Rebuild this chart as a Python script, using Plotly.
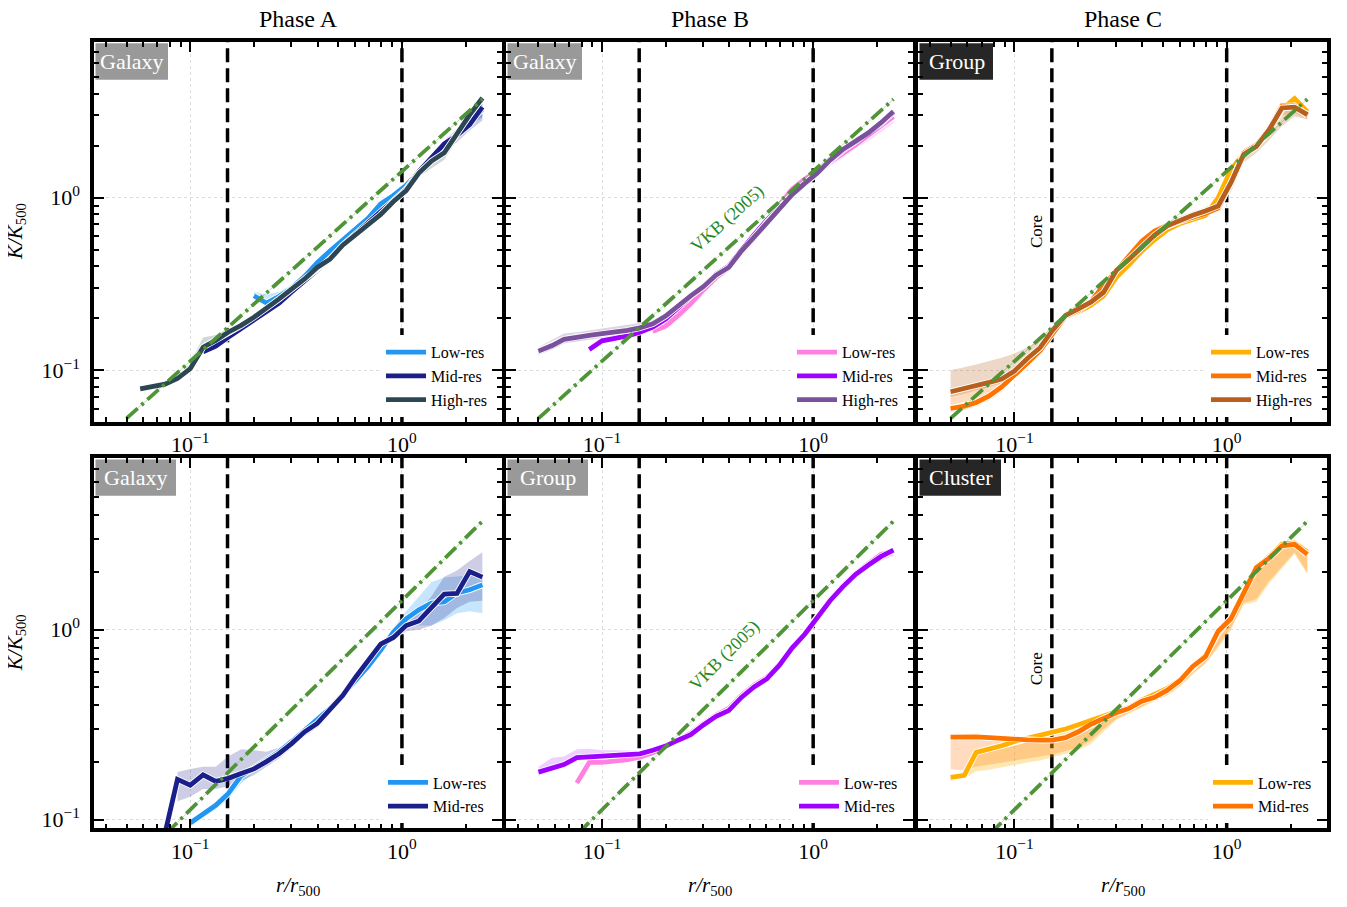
import math
import plotly.graph_objects as go

N = None

# ---------------- data ----------------
R = [0.050, 0.058, 0.066, 0.076, 0.087, 0.100, 0.115, 0.132, 0.151, 0.174,
     0.200, 0.229, 0.263, 0.302, 0.347, 0.398, 0.457, 0.525, 0.603, 0.692,
     0.794, 0.912, 1.047, 1.202, 1.380, 1.585, 1.820, 2.089, 2.399]

# Phase A, Galaxy (top row)
PA1_LOW = [N] * 10 + [0.27, 0.245, 0.268, 0.30, 0.35, 0.42, 0.49, 0.57, 0.66, 0.76,
                      0.92, 1.03, 1.18, 1.42, 1.68, 1.90, 2.30, 2.80, 3.25]
PA1_LOW_LO = [N] * 10 + [0.255, 0.235, 0.255, 0.29, 0.335, 0.40, 0.47, 0.55, 0.64, 0.74,
                         0.88, 0.99, 1.13, 1.36, 1.60, 1.80, 2.2, 2.65, 2.9]
PA1_LOW_HI = [N] * 10 + [0.285, 0.275, 0.285, 0.315, 0.365, 0.44, 0.51, 0.59, 0.68, 0.78,
                         0.96, 1.07, 1.23, 1.48, 1.76, 2.0, 2.4, 2.95, 3.4]
PA1_MID = [N] * 6 + [0.128, 0.138, 0.155, 0.175, 0.196, 0.218, 0.245, 0.285, 0.33, 0.385,
                     0.44, 0.53, 0.62, 0.72, 0.83, 0.96, 1.12, 1.42, 1.72, 2.05, 2.30, 2.65, 3.35]
PA1_MID_LO = [N] * 22 + [1.08, 1.35, 1.60, 1.85, 2.10, 2.45, 2.80]
PA1_MID_HI = [N] * 22 + [1.16, 1.48, 1.80, 2.15, 2.50, 2.90, 3.50]
PA1_HIGH = [N, 0.078, 0.080, 0.083, 0.0895, 0.102, 0.136, 0.149, 0.166, 0.182, 0.203, 0.227,
            0.259, 0.296, 0.338, 0.394, 0.44, 0.53, 0.61, 0.70, 0.80, 0.95, 1.10, 1.39, 1.63,
            1.82, 2.37, 3.02, 3.78]
PA1_HIGH_LO = [N, 0.076, 0.078, 0.080, 0.086, 0.097, 0.125, 0.143, 0.160, 0.177, 0.197, 0.221,
               0.252, 0.289, 0.330, 0.385, 0.43, 0.52, 0.60, 0.69, 0.78, 0.92, 1.07, 1.32, 1.48,
               1.66, 2.15, 2.65, 2.95]
PA1_HIGH_HI = [N, 0.080, 0.082, 0.086, 0.093, 0.110, 0.155, 0.160, 0.172, 0.188, 0.210, 0.233,
               0.265, 0.303, 0.346, 0.402, 0.45, 0.54, 0.62, 0.71, 0.82, 0.98, 1.13, 1.42, 1.68,
               1.92, 2.45, 3.10, 3.85]

# Phase B, Galaxy (top row)
PB1_LOW = [N] * 9 + [0.168, 0.180, 0.207, 0.243, 0.292, 0.345, 0.390, 0.475, 0.58, 0.73,
                     0.91, 1.12, 1.28, 1.43, 1.62, 1.82, 2.02, 2.30, 2.60, 2.95]
PB1_LOW_LO = [N] * 9 + [0.162, 0.173, 0.200, 0.234, 0.282, 0.335, 0.378, 0.460, 0.565, 0.71,
                        0.88, 1.08, 1.24, 1.38, 1.55, 1.74, 1.92, 2.12, 2.40, 2.70]
PB1_LOW_HI = [N] * 9 + [0.174, 0.187, 0.214, 0.252, 0.302, 0.355, 0.402, 0.490, 0.595, 0.75,
                        0.94, 1.16, 1.32, 1.48, 1.68, 1.90, 2.12, 2.42, 2.72, 3.05]
PB1_MID = [N] * 4 + [0.132, 0.148, 0.153, 0.158, 0.166, 0.178, 0.198, 0.232, 0.268, 0.307,
                     0.36, 0.40, 0.50, 0.61, 0.74, 0.88, 1.04, 1.20, 1.38, 1.63, 1.88, 2.10,
                     2.35, 2.68, 3.12]
PB1_HIGH = [0.129, 0.139, 0.151, 0.156, 0.159, 0.163, 0.166, 0.170, 0.176, 0.186, 0.206, 0.237,
            0.270, 0.305, 0.356, 0.394, 0.49, 0.59, 0.718, 0.87, 1.04, 1.21, 1.39, 1.65, 1.90,
            2.12, 2.37, 2.71, 3.16]
PB1_HIGH_LO = [0.123, 0.132, 0.143, 0.147, 0.150, 0.154, 0.158, 0.163, 0.170, 0.181, 0.200, 0.230,
               0.262, 0.296, 0.345, 0.383, 0.475, 0.575, 0.70, 0.85, 1.01, 1.17, 1.34, 1.52, 1.70,
               1.92, 2.22, 2.55, 2.95]
PB1_HIGH_HI = [0.136, 0.150, 0.163, 0.166, 0.170, 0.174, 0.178, 0.182, 0.188, 0.195, 0.213, 0.244,
               0.278, 0.314, 0.367, 0.405, 0.505, 0.605, 0.735, 0.89, 1.07, 1.25, 1.43, 1.70, 1.96,
               2.18, 2.44, 2.80, 3.25]

# Phase C, Group (top row)
PC1_LOW = [N] * 7 + [0.133, 0.166, 0.205, 0.218, 0.238, 0.270, 0.345, 0.41, 0.49, 0.57,
                     0.65, 0.71, 0.75, 0.79, 1.00, 1.45, 1.80, 2.00, 2.40, 3.25, 3.75, 3.15]
PC1_MID = [0.060, 0.062, 0.065, 0.071, 0.080, 0.093, 0.110, 0.130, 0.162, 0.205, 0.222, 0.250,
           0.310, 0.375, 0.46, 0.56, 0.64, 0.69, 0.73, 0.77, 0.81, 0.87, 1.22, 1.82, 2.02, 2.50,
           3.40, 3.40, 3.00]
PC1_MID_LO = [0.057, 0.059, 0.062, 0.067, 0.075, 0.088, 0.104, 0.123, 0.154, 0.195, 0.212, 0.238,
              0.29, 0.355, 0.43, 0.52, 0.60, 0.66, 0.70, 0.74, 0.78, 0.84, 1.12, 1.70, 1.90, 2.30,
              3.0, 3.1, 2.85]
PC1_MID_HI = [0.075, 0.077, 0.080, 0.083, 0.088, 0.099, 0.116, 0.137, 0.170, 0.215, 0.232, 0.262,
              0.33, 0.395, 0.49, 0.59, 0.67, 0.72, 0.76, 0.80, 0.85, 0.92, 1.32, 1.92, 2.12, 2.65,
              3.55, 3.60, 3.15]
PC1_HIGH = [0.075, 0.078, 0.081, 0.085, 0.089, 0.099, 0.117, 0.135, 0.170, 0.208, 0.227, 0.248,
            0.283, 0.378, 0.44, 0.515, 0.606, 0.687, 0.743, 0.79, 0.838, 0.895, 1.22, 1.78, 1.98,
            2.48, 3.31, 3.35, 3.03]
PC1_HIGH_LO = [0.070, 0.073, 0.076, 0.080, 0.084, 0.093, 0.110, 0.127, 0.160, 0.196, 0.214, 0.232,
               0.262, 0.335, 0.395, 0.465, 0.555, 0.635, 0.70, 0.75, 0.80, 0.86, 1.08, 1.60, 1.82,
               2.15, 2.60, 2.95, 2.85]
PC1_HIGH_HI = [0.100, 0.104, 0.108, 0.113, 0.118, 0.125, 0.136, 0.150, 0.180, 0.220, 0.240, 0.262,
               0.310, 0.400, 0.475, 0.56, 0.65, 0.72, 0.78, 0.83, 0.88, 0.98, 1.35, 1.90, 2.12,
               2.70, 3.50, 3.60, 3.20]

# Phase A, Galaxy (bottom row)
PA2_LOW = [N] * 5 + [0.096, 0.107, 0.119, 0.137, 0.170, 0.187, 0.205, 0.228, 0.258, 0.295, 0.335,
                     0.385, 0.455, 0.54, 0.64, 0.78, 0.97, 1.14, 1.27, 1.38, 1.40, 1.56, 1.62, 1.72]
PA2_LOW_LO = [N] * 5 + [0.092, 0.102, 0.113, 0.128, 0.155, 0.178, 0.197, 0.220, 0.250, 0.285, 0.325,
                        0.372, 0.44, 0.52, 0.62, 0.74, 0.92, 1.05, 1.05, 1.05, 1.12, 1.22, 1.25, 1.22]
PA2_LOW_HI = [N] * 5 + [0.100, 0.112, 0.125, 0.145, 0.180, 0.196, 0.213, 0.236, 0.266, 0.305, 0.345,
                        0.398, 0.47, 0.56, 0.66, 0.82, 1.03, 1.25, 1.50, 1.78, 1.88, 1.90, 1.92, 1.95]
PA2_MID = [N, N, N, 0.085, 0.163, 0.152, 0.172, 0.159, 0.165, 0.175, 0.185, 0.202, 0.223, 0.252,
           0.290, 0.321, 0.377, 0.45, 0.56, 0.69, 0.84, 0.91, 1.05, 1.11, 1.32, 1.54, 1.55, 2.02,
           1.89]
PA2_MID_LO = [N] * 4 + [0.125, 0.132, 0.145, 0.145, 0.150, 0.160, 0.172, 0.190, 0.210, 0.240, 0.275,
                        0.305, 0.36, 0.43, 0.53, 0.66, 0.81, 0.88, 0.98, 1.00, 1.05, 1.15, 1.30,
                        1.40, 1.42]
PA2_MID_HI = [N] * 4 + [0.178, 0.185, 0.190, 0.190, 0.215, 0.235, 0.232, 0.228, 0.240, 0.270, 0.305,
                        0.340, 0.39, 0.47, 0.58, 0.71, 0.87, 0.95, 1.12, 1.25, 1.50, 1.90, 2.05,
                        2.30, 2.55]

# Phase B, Group (bottom row)
PB2_LOW = [N] * 3 + [0.156, 0.200, 0.200, 0.203, 0.207, 0.213, 0.225, 0.242, 0.262, 0.285, 0.320,
                     0.355, 0.385, 0.45, 0.51, 0.56, 0.655, 0.80, 0.955, 1.17, 1.44, 1.70, 1.97,
                     2.22, 2.48, 2.60]
PB2_MID = [0.178, 0.188, 0.195, 0.212, 0.214, 0.216, 0.219, 0.219, 0.222, 0.232, 0.244, 0.262,
           0.280, 0.315, 0.350, 0.375, 0.44, 0.50, 0.55, 0.65, 0.80, 0.945, 1.16, 1.42, 1.68,
           1.95, 2.18, 2.42, 2.62]
PB2_MID_LO = [0.171, 0.180, 0.188, 0.205, 0.207, 0.209, 0.212, 0.212, 0.215, 0.225, 0.237, 0.254,
              0.272, 0.305, 0.34, 0.365, 0.43, 0.49, 0.54, 0.63, 0.78, 0.925, 1.13, 1.38, 1.62,
              1.88, 2.10, 2.30, 2.45]
PB2_MID_HI = [0.190, 0.212, 0.215, 0.235, 0.236, 0.232, 0.232, 0.230, 0.230, 0.240, 0.252, 0.270,
              0.290, 0.325, 0.36, 0.386, 0.45, 0.51, 0.565, 0.67, 0.82, 0.965, 1.19, 1.48, 1.74,
              2.00, 2.24, 2.48, 2.68]

# Phase C, Cluster (bottom row)
PC2_LOW = [0.167, 0.171, 0.226, 0.235, 0.245, 0.258, 0.268, 0.278, 0.288, 0.300, 0.316, 0.333,
           0.350, 0.370, 0.390, 0.425, 0.455, 0.490, 0.545, 0.63, 0.73, 0.96, 1.15, 1.58, 2.12,
           2.42, 2.82, 2.86, 2.56]
PC2_LOW_LO = [0.160, 0.165, 0.180, 0.183, 0.188, 0.194, 0.200, 0.205, 0.212, 0.222, 0.232, 0.250,
              0.290, 0.335, 0.360, 0.390, 0.420, 0.450, 0.500, 0.58, 0.66, 0.80, 1.00, 1.35, 1.40,
              1.75, 2.10, 2.50, 1.95]
PC2_LOW_HI = [0.172, 0.176, 0.232, 0.242, 0.252, 0.265, 0.276, 0.286, 0.296, 0.309, 0.325, 0.343,
              0.360, 0.380, 0.400, 0.437, 0.468, 0.505, 0.560, 0.65, 0.75, 0.99, 1.18, 1.63, 2.18,
              2.49, 2.90, 2.94, 2.63]
PC2_MID = [0.272, 0.274, 0.273, 0.270, 0.267, 0.264, 0.263, 0.262, 0.262, 0.270, 0.290, 0.318,
           0.342, 0.365, 0.385, 0.42, 0.44, 0.48, 0.54, 0.64, 0.72, 0.98, 1.14, 1.58, 2.12, 2.38,
           2.76, 2.81, 2.49]
PC2_MID_LO = [0.184, 0.182, 0.190, 0.195, 0.200, 0.205, 0.210, 0.215, 0.220, 0.230, 0.240, 0.260,
              0.300, 0.340, 0.365, 0.395, 0.425, 0.455, 0.510, 0.59, 0.67, 0.82, 1.02, 1.38, 1.45,
              1.80, 2.15, 2.55, 2.00]
PC2_MID_HI = [0.280, 0.282, 0.281, 0.278, 0.275, 0.272, 0.271, 0.270, 0.270, 0.278, 0.298, 0.326,
              0.350, 0.374, 0.395, 0.43, 0.45, 0.49, 0.55, 0.66, 0.74, 1.01, 1.18, 1.63, 2.18,
              2.45, 2.84, 2.90, 2.57]

# reference lines and labels
CORE_R = 0.15
R500 = 1.0
VKB_NORM = 1.42
VKB_SLOPE = 1.1
VKB_R = [0.05, 2.4]

PHASE_TITLES = ["Phase A", "Phase B", "Phase C"]
SERIES_NAMES = ["Low-res", "Mid-res", "High-res"]
TICK_VALS = [0.1, 1.0]
TICK_TEXT = ["10<sup>\u22121</sup>", "10<sup>0</sup>"]
X_MINOR = [0.04, 0.05, 0.06, 0.07, 0.08, 0.09, 0.2, 0.3, 0.4, 0.5, 0.6, 0.7, 0.8, 0.9, 2, 3]
Y_MINOR = [0.05, 0.06, 0.07, 0.08, 0.09, 0.2, 0.3, 0.4, 0.5, 0.6, 0.7, 0.8, 0.9,
           2, 3, 4, 5, 6, 7, 8]

# ---------------- styling / layout ----------------
W, H = 1347, 907
OFF = 8  # page body margin of the browser
COLS_PX = [(94, 502), (506, 913), (918, 1327)]
ROWS_PX = [(42, 424), (460, 832)]
X_RANGE = [0.0351, 2.97]
Y_RANGES = [[0.05, 8.0], [0.09, 8.0]]
FONT = "Liberation Serif"
GREEN = "#4F9436"
GREEN_TEXT = "#1E8A1E"
BOX_H = 38

COL_A = ["#2196F3", "#1B1F8A", "#2D4654"]
COL_B = ["#FF80E0", "#A000FF", "#7A529C"]
COL_C = ["#FFB000", "#FF7300", "#B95F1E"]
BAND_A = ["rgba(33,150,243,0.25)", "rgba(27,31,138,0.22)", "rgba(45,70,84,0.22)"]
BAND_B = ["rgba(255,128,224,0.28)", "rgba(160,0,255,0.18)", "rgba(122,82,156,0.25)"]
BAND_C = ["rgba(255,176,0,0.30)", "rgba(255,115,0,0.25)", "rgba(185,95,30,0.25)"]


def ser(i, y, lo, hi, cols, bands):
    return dict(name=SERIES_NAMES[i], y=y, lo=lo, hi=hi, color=cols[i], band=bands[i])


PANELS = [
    dict(row=0, col=0, label="Galaxy", box_w=74, dark=False, vkb_text=None, core=None,
         series=[ser(0, PA1_LOW, PA1_LOW_LO, PA1_LOW_HI, COL_A, BAND_A),
                 ser(1, PA1_MID, PA1_MID_LO, PA1_MID_HI, COL_A, BAND_A),
                 ser(2, PA1_HIGH, PA1_HIGH_LO, PA1_HIGH_HI, COL_A, BAND_A)]),
    dict(row=0, col=1, label="Galaxy", box_w=76, dark=False, vkb_text=(0.394, 0.76, -41.6),
         core=None,
         series=[ser(0, PB1_LOW, PB1_LOW_LO, PB1_LOW_HI, COL_B, BAND_B),
                 ser(1, PB1_MID, None, None, COL_B, BAND_B),
                 ser(2, PB1_HIGH, PB1_HIGH_LO, PB1_HIGH_HI, COL_B, BAND_B)]),
    dict(row=0, col=2, label="Group", box_w=75, dark=True, vkb_text=None, core=(0.127, 0.637),
         series=[ser(0, PC1_LOW, None, None, COL_C, BAND_C),
                 ser(1, PC1_MID, PC1_MID_LO, PC1_MID_HI, COL_C, BAND_C),
                 ser(2, PC1_HIGH, PC1_HIGH_LO, PC1_HIGH_HI, COL_C, BAND_C)]),
    dict(row=1, col=0, label="Galaxy", box_w=82, dark=False, vkb_text=None, core=None,
         series=[ser(0, PA2_LOW, PA2_LOW_LO, PA2_LOW_HI, COL_A, BAND_A),
                 ser(1, PA2_MID, PA2_MID_LO, PA2_MID_HI, COL_A, BAND_A)]),
    dict(row=1, col=1, label="Group", box_w=82, dark=False, vkb_text=(0.381, 0.733, -45),
         core=None,
         series=[ser(0, PB2_LOW, None, None, COL_B, BAND_B),
                 ser(1, PB2_MID, PB2_MID_LO, PB2_MID_HI, COL_B, BAND_B)]),
    dict(row=1, col=2, label="Cluster", box_w=83, dark=True, vkb_text=None, core=(0.127, 0.622),
         series=[ser(0, PC2_LOW, PC2_LOW_LO, PC2_LOW_HI, COL_C, BAND_C),
                 ser(1, PC2_MID, PC2_MID_LO, PC2_MID_HI, COL_C, BAND_C)]),
]


def valid(xs, *cols):
    out = [[] for _ in range(len(cols) + 1)]
    for vals in zip(xs, *cols):
        if all(v is not None for v in vals):
            for k, v in enumerate(vals):
                out[k].append(v)
    return out


def px_x(px):
    return (px - OFF) / W


def px_y(py):
    return 1 - (py - OFF) / H


fig = go.Figure()
layout = dict(width=W, height=H, margin=dict(l=0, r=0, t=0, b=0),
              paper_bgcolor="white", plot_bgcolor="white", showlegend=True,
              font=dict(family=FONT, color="black"))
annotations = []
shapes = []

for k, p in enumerate(PANELS):
    ax = k + 1
    xa = "x" if ax == 1 else f"x{ax}"
    ya = "y" if ax == 1 else f"y{ax}"
    leg = "legend" if ax == 1 else f"legend{ax}"
    x0p, x1p = COLS_PX[p["col"]]
    y0p, y1p = ROWS_PX[p["row"]]
    yr = Y_RANGES[p["row"]]

    common_axis = dict(type="log", showline=True, linewidth=3.5, linecolor="black",
                       mirror="ticks", ticks="inside", ticklen=10, tickwidth=2,
                       tickcolor="black", showgrid=True, gridcolor="#dcdcdc",
                       griddash="dot", gridwidth=1, zeroline=False,
                       tickvals=TICK_VALS, ticktext=TICK_TEXT,
                       tickfont=dict(family=FONT, size=22, color="black"))
    layout["xaxis" if ax == 1 else f"xaxis{ax}"] = dict(
        common_axis, domain=[px_x(x0p), px_x(x1p)], anchor=ya,
        range=[math.log10(X_RANGE[0]), math.log10(X_RANGE[1])],
        minor=dict(tickvals=X_MINOR, ticks="inside", ticklen=5, tickwidth=1.5,
                   tickcolor="black", showgrid=False))
    layout["yaxis" if ax == 1 else f"yaxis{ax}"] = dict(
        common_axis, domain=[px_y(y1p), px_y(y0p)], anchor=xa,
        range=[math.log10(yr[0]), math.log10(yr[1])],
        showticklabels=(p["col"] == 0), ticklabelstandoff=6,
        minor=dict(tickvals=Y_MINOR, ticks="inside", ticklen=5, tickwidth=1.5,
                   tickcolor="black", showgrid=False))

    # vertical reference lines (core radius and r500)
    for xv in (CORE_R, R500):
        fig.add_trace(go.Scatter(x=[xv, xv], y=yr, mode="lines", xaxis=xa, yaxis=ya,
                                 line=dict(color="black", width=3.5, dash="14px,6px"),
                                 showlegend=False, hoverinfo="skip"))
    # scatter bands
    for s in p["series"]:
        if s["lo"] is None:
            continue
        xs, lo, hi = valid(R, s["lo"], s["hi"])
        fig.add_trace(go.Scatter(x=xs + xs[::-1], y=hi + lo[::-1], mode="lines",
                                 fill="toself", fillcolor=s["band"], line=dict(width=0),
                                 xaxis=xa, yaxis=ya, showlegend=False, hoverinfo="skip"))
    # profiles with a white edge
    for s in p["series"]:
        xs, ys = valid(R, s["y"])
        fig.add_trace(go.Scatter(x=xs, y=ys, mode="lines", xaxis=xa, yaxis=ya,
                                 line=dict(color="white", width=6.5),
                                 showlegend=False, hoverinfo="skip"))
        fig.add_trace(go.Scatter(x=xs, y=ys, mode="lines", xaxis=xa, yaxis=ya,
                                 name=s["name"], legend=leg,
                                 line=dict(color=s["color"], width=4.8)))
    # VKB (2005) relation
    vy = [VKB_NORM * r ** VKB_SLOPE for r in VKB_R]
    fig.add_trace(go.Scatter(x=VKB_R, y=vy, mode="lines", xaxis=xa, yaxis=ya,
                             line=dict(color="rgba(79,148,54,0.35)", width=1),
                             showlegend=False, hoverinfo="skip"))
    fig.add_trace(go.Scatter(x=VKB_R, y=vy, mode="lines", xaxis=xa, yaxis=ya,
                             line=dict(color=GREEN, width=3.8, dash="15px,5px,3px,5px"),
                             showlegend=False, hoverinfo="skip"))

    # legend of this panel
    layout[leg] = dict(x=px_x(x1p - 10), xanchor="right", y=px_y(y1p - 5),
                       yanchor="bottom", bgcolor="white", borderwidth=0,
                       font=dict(family=FONT, size=16, color="black"),
                       itemwidth=40, tracegroupgap=0)

    # class label box
    pw = x1p - x0p
    ph = y1p - y0p
    bw = p["box_w"]
    shapes.append(dict(type="rect", xref=f"{xa} domain", yref=f"{ya} domain",
                       x0=1.5 / pw, x1=bw / pw, y0=1 - BOX_H / ph, y1=1 - 1.5 / ph,
                       fillcolor="#262626" if p["dark"] else "#999999",
                       line=dict(width=0), layer="below"))
    annotations.append(dict(text=p["label"], xref=f"{xa} domain", yref=f"{ya} domain",
                            x=(bw / 2 + 1) / pw, y=1 - (BOX_H / 2 + 1) / ph,
                            xanchor="center", yanchor="middle", showarrow=False,
                            font=dict(family=FONT, size=22, color="white")))
    if p["vkb_text"]:
        tx, ty, ang = p["vkb_text"]
        annotations.append(dict(text="VKB (2005)", xref=xa, yref=ya,
                                x=math.log10(tx), y=math.log10(ty), showarrow=False,
                                textangle=ang,
                                font=dict(family=FONT, size=18, color=GREEN_TEXT)))
    if p["core"]:
        cx, cy = p["core"]
        annotations.append(dict(text="Core", xref=xa, yref=ya,
                                x=math.log10(cx), y=math.log10(cy), showarrow=False,
                                textangle=-90,
                                font=dict(family=FONT, size=17, color="black")))

# column titles
for c, t in enumerate(PHASE_TITLES):
    x0p, x1p = COLS_PX[c]
    annotations.append(dict(text=t, xref="paper", yref="paper", x=px_x((x0p + x1p) / 2),
                            y=px_y(19), showarrow=False, xanchor="center", yanchor="middle",
                            font=dict(family=FONT, size=24, color="black")))
# axis titles
for r in range(2):
    y0p, y1p = ROWS_PX[r]
    annotations.append(dict(text="<i>K/K</i><sub>500</sub>", xref="paper", yref="paper",
                            x=px_x(16), y=px_y((y0p + y1p) / 2), showarrow=False,
                            textangle=-90, xanchor="center", yanchor="middle",
                            font=dict(family=FONT, size=21, color="black")))
for c in range(3):
    x0p, x1p = COLS_PX[c]
    annotations.append(dict(text="<i>r/r</i><sub>500</sub>", xref="paper", yref="paper",
                            x=px_x((x0p + x1p) / 2), y=px_y(890), showarrow=False,
                            xanchor="center", yanchor="middle",
                            font=dict(family=FONT, size=21, color="black")))

layout["annotations"] = annotations
layout["shapes"] = shapes
fig.update_layout(**layout)
fig.write_html("out.html")
